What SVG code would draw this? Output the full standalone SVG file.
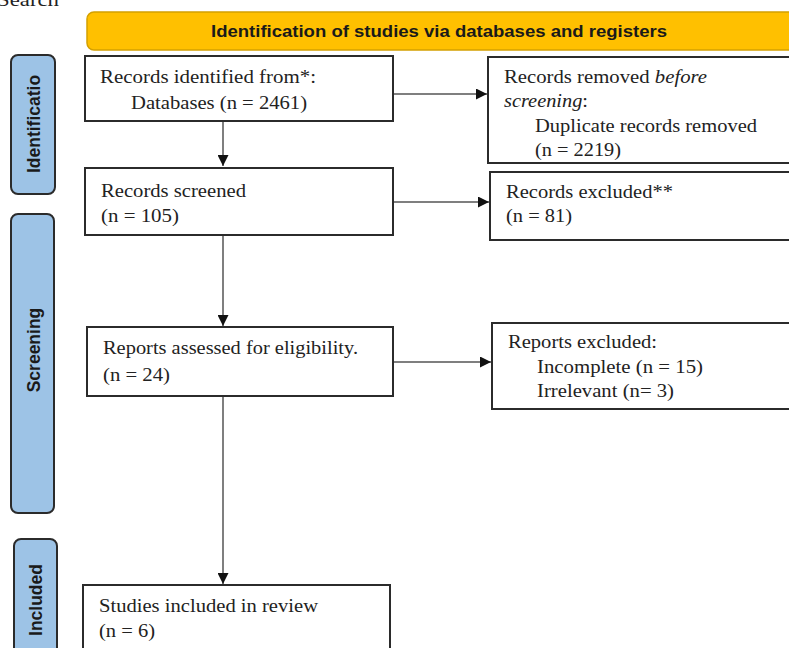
<svg xmlns="http://www.w3.org/2000/svg" width="789" height="648" viewBox="0 0 789 648">
<style>
.box{fill:#fff;stroke:#2b2b2b;stroke-width:2}
.side{fill:#9dc3e6;stroke:#2b2b2b;stroke-width:2}
.t{font-family:"Liberation Serif","Times New Roman",serif;font-size:18.5px;fill:#222}
.s{font-family:"Liberation Sans",Arial,sans-serif;font-weight:bold;font-size:17.5px;fill:#1a1a1a;text-anchor:middle}
.h{font-family:"Liberation Sans",Arial,sans-serif;font-weight:bold;font-size:16px;fill:#1a1a1a;text-anchor:middle}
.c{stroke:#555;stroke-width:1.5;fill:none;marker-end:url(#ah)}
</style>
<defs>
<marker id="ah" markerUnits="userSpaceOnUse" markerWidth="12" markerHeight="11" refX="11" refY="5.5" orient="auto">
<path d="M0,0 L11,5.5 L0,11 z" fill="#111"/>
</marker>
</defs>
<rect width="789" height="648" fill="#fff"/>
<text class="t" x="-3" y="6" font-size="20" textLength="62" lengthAdjust="spacingAndGlyphs">Search</text>

<g id="header">
<rect x="87" y="12" width="720" height="38" rx="7" fill="#ffc000" stroke="#d4a000" stroke-width="1.5"/>
<text class="h" x="439" y="37" textLength="456" lengthAdjust="spacingAndGlyphs">Identification of studies via databases and registers</text>
</g>

<g id="phase-identification">
<rect class="side" x="11" y="55" width="44" height="139" rx="7"/>
<text class="s" transform="translate(40,124) rotate(-90)">Identificatio</text>
</g>
<g id="phase-screening">
<rect class="side" x="11" y="214" width="43" height="299" rx="7"/>
<text class="s" transform="translate(40,350) rotate(-90)">Screening</text>
</g>
<g id="phase-included">
<rect class="side" x="14" y="539" width="43" height="125" rx="7"/>
<text class="s" transform="translate(42,600) rotate(-90)">Included</text>
</g>

<g id="connectors">
<line class="c" x1="223" y1="121" x2="223" y2="166"/>
<line class="c" x1="393" y1="94" x2="487" y2="94"/>
<line class="c" x1="393" y1="202" x2="489" y2="202"/>
<line class="c" x1="223" y1="235" x2="223" y2="326"/>
<line class="c" x1="393" y1="362" x2="491" y2="362"/>
<line class="c" x1="223" y1="396" x2="223" y2="584"/>
</g>

<g id="records-identified">
<rect class="box" x="85" y="56" width="308" height="65"/>
<text class="t" x="100" y="83" textLength="216" lengthAdjust="spacingAndGlyphs">Records identified from*:</text>
<text class="t" x="131" y="109" textLength="176" lengthAdjust="spacingAndGlyphs">Databases (n = 2461)</text>
</g>

<g id="records-removed">
<rect class="box" x="488" y="57" width="310" height="106"/>
<text class="t" x="504" y="83" textLength="203" lengthAdjust="spacingAndGlyphs">Records removed <tspan font-style="italic">before</tspan></text>
<text class="t" x="504" y="107" textLength="84" lengthAdjust="spacingAndGlyphs"><tspan font-style="italic">screening</tspan>:</text>
<text class="t" x="535" y="132" textLength="222" lengthAdjust="spacingAndGlyphs">Duplicate records removed</text>
<text class="t" x="535" y="156" textLength="86" lengthAdjust="spacingAndGlyphs">(n = 2219)</text>
</g>

<g id="records-screened">
<rect class="box" x="85" y="168" width="308" height="67"/>
<text class="t" x="101" y="197" textLength="145" lengthAdjust="spacingAndGlyphs">Records screened</text>
<text class="t" x="101" y="222" textLength="78" lengthAdjust="spacingAndGlyphs">(n = 105)</text>
</g>

<g id="records-excluded">
<rect class="box" x="490" y="172" width="308" height="68"/>
<text class="t" x="506" y="198" textLength="167" lengthAdjust="spacingAndGlyphs">Records excluded**</text>
<text class="t" x="506" y="222" textLength="66" lengthAdjust="spacingAndGlyphs">(n = 81)</text>
</g>

<g id="reports-assessed">
<rect class="box" x="87" y="327" width="306" height="69"/>
<text class="t" x="103" y="354" textLength="255" lengthAdjust="spacingAndGlyphs">Reports assessed for eligibility.</text>
<text class="t" x="103" y="381" textLength="67" lengthAdjust="spacingAndGlyphs">(n = 24)</text>
</g>

<g id="reports-excluded">
<rect class="box" x="492" y="323" width="306" height="86"/>
<text class="t" x="508" y="348" textLength="149" lengthAdjust="spacingAndGlyphs">Reports excluded:</text>
<text class="t" x="537" y="373" textLength="166" lengthAdjust="spacingAndGlyphs">Incomplete (n = 15)</text>
<text class="t" x="537" y="397" textLength="137" lengthAdjust="spacingAndGlyphs">Irrelevant (n= 3)</text>
</g>

<g id="studies-included">
<rect class="box" x="83" y="585" width="307" height="70"/>
<text class="t" x="99" y="612" textLength="219" lengthAdjust="spacingAndGlyphs">Studies included in review</text>
<text class="t" x="99" y="637" textLength="56" lengthAdjust="spacingAndGlyphs">(n = 6)</text>
</g>
</svg>
